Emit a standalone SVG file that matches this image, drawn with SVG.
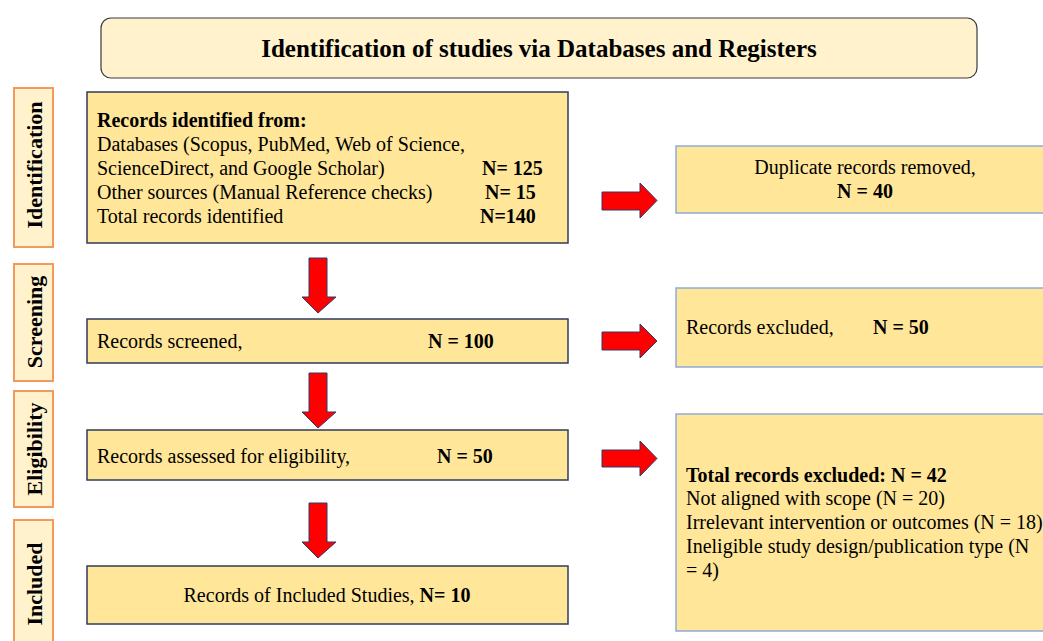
<svg xmlns="http://www.w3.org/2000/svg" width="1043" height="641" viewBox="0 0 1043 641">
<style>
text{font-family:"Liberation Serif","Times New Roman",serif;fill:#000}
.t{font-size:20px}
.b{font-weight:bold}
.title{font-size:25px;font-weight:bold}
.phase rect{fill:#fff2cc;stroke:#f19a5b;stroke-width:2}
.phase text{font-size:22px;font-weight:bold}
.main{fill:#ffe699;stroke:#2f3b5c;stroke-width:1.5}
.side{fill:#ffe699;stroke:#8eaadb;stroke-width:1.5}
.arr{fill:#ff0000;stroke:#2f3b6b;stroke-width:1}
</style>
<rect width="1043" height="641" fill="#fff"/>
<g id="title">
<rect x="101" y="18" width="876" height="60" rx="10" fill="#fff2cc" stroke="#3a3a3a" stroke-width="1.2"/>
<text class="title" x="539" y="57" text-anchor="middle">Identification of studies via Databases and Registers</text>
</g>
<g id="phase-identification" class="phase">
<rect x="14" y="88" width="39" height="159"/>
<text transform="translate(42,165) rotate(-90)" text-anchor="middle">Identification</text>
</g>
<g id="phase-screening" class="phase">
<rect x="14" y="264" width="39" height="117"/>
<text transform="translate(42,322) rotate(-90)" text-anchor="middle">Screening</text>
</g>
<g id="phase-eligibility" class="phase">
<rect x="14" y="391" width="39" height="116"/>
<text transform="translate(42,449) rotate(-90)" text-anchor="middle">Eligibility</text>
</g>
<g id="phase-included" class="phase">
<rect x="14" y="520" width="39" height="130"/>
<text transform="translate(42,584) rotate(-90)" text-anchor="middle">Included</text>
</g>
<g id="identified">
<rect class="main" x="87" y="92" width="481" height="151"/>
<text class="t b" x="97" y="127">Records identified from:</text>
<text class="t" x="97" y="151">Databases (Scopus, PubMed, Web of Science,</text>
<text class="t" x="97" y="175">ScienceDirect, and Google Scholar)</text>
<text class="t b" x="482" y="175">N= 125</text>
<text class="t" x="97" y="199">Other sources (Manual Reference checks)</text>
<text class="t b" x="485" y="199">N= 15</text>
<text class="t" x="97" y="223">Total records identified</text>
<text class="t b" x="480" y="223">N=140</text>
</g>
<g id="screened">
<rect class="main" x="87" y="319" width="481" height="44"/>
<text class="t" x="97" y="348">Records screened,</text>
<text class="t b" x="428" y="348">N = 100</text>
</g>
<g id="eligibility">
<rect class="main" x="87" y="430" width="481" height="50"/>
<text class="t" x="97" y="463">Records assessed for eligibility,</text>
<text class="t b" x="437" y="463">N = 50</text>
</g>
<g id="included">
<rect class="main" x="87" y="566" width="481" height="58"/>
<text class="t" x="327" y="602" text-anchor="middle">Records of Included Studies, <tspan class="b">N= 10</tspan></text>
</g>
<g id="duplicates">
<rect class="side" x="676" y="146" width="380" height="67"/>
<text class="t" x="865" y="174" text-anchor="middle">Duplicate records removed,</text>
<text class="t b" x="865" y="198" text-anchor="middle">N = 40</text>
</g>
<g id="excluded">
<rect class="side" x="676" y="288" width="380" height="79"/>
<text class="t" x="686" y="334">Records excluded,</text>
<text class="t b" x="873" y="334">N = 50</text>
</g>
<g id="total-excluded">
<rect class="side" x="676" y="414" width="380" height="217"/>
<text class="t b" x="686" y="482">Total records excluded: N = 42</text>
<text class="t" x="686" y="505">Not aligned with scope (N = 20)</text>
<text class="t" x="686" y="529">Irrelevant intervention or outcomes (N = 18)</text>
<text class="t" x="686" y="553">Ineligible study design/publication type (N</text>
<text class="t" x="686" y="577">= 4)</text>
</g>
<g id="connectors">
<path class="arr" d="M309,258 H327 V297 H336 L318,313 L302,297 H309 Z"/>
<path class="arr" d="M309,373 H327 V412 H336 L318,428 L302,412 H309 Z"/>
<path class="arr" d="M309,503 H327 V542 H336 L318,558 L302,542 H309 Z"/>
<path class="arr" d="M602,192 H640 V183 L657,200.5 L640,218 V210 H602 Z"/>
<path class="arr" d="M602,332 H640 V324 L657,341 L640,358 V350 H602 Z"/>
<path class="arr" d="M602,450 H640 V441 L657,458.5 L640,476 V467 H602 Z"/>
</g>
</svg>
